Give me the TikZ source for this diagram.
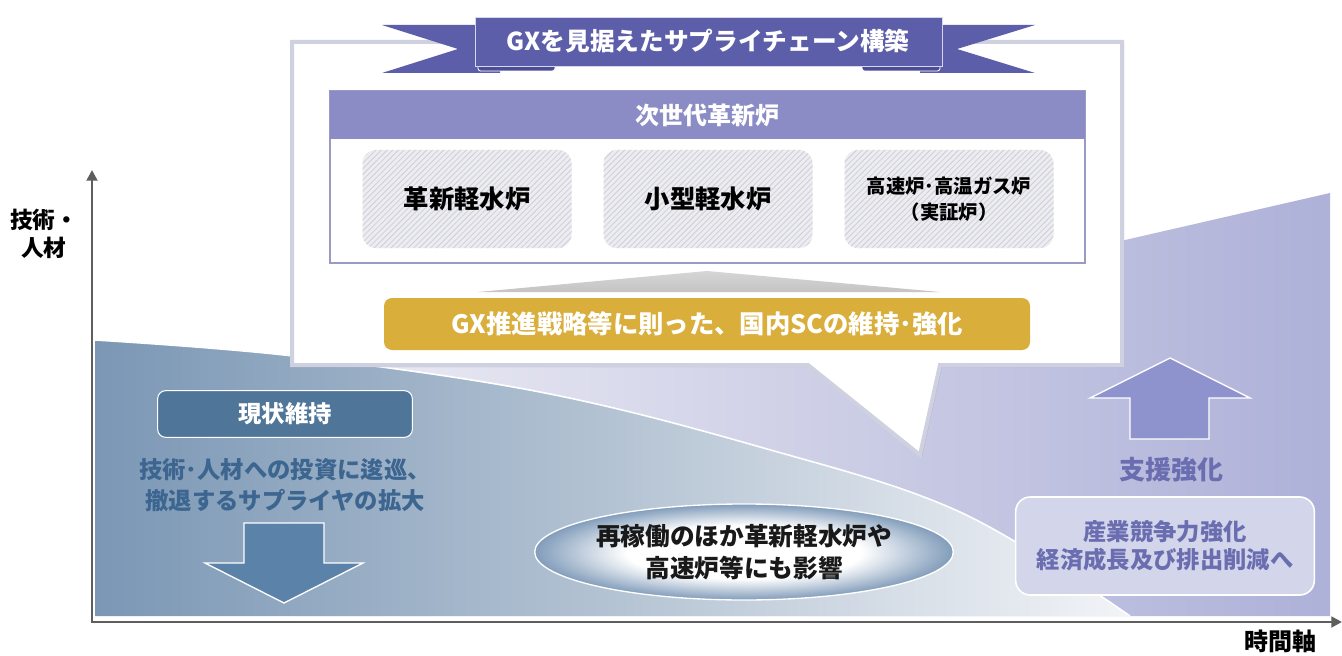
\documentclass[tikz,border=0pt]{standalone}
\usepackage{fontspec}
\setmainfont{Noto Sans CJK JP}
\usetikzlibrary{arrows.meta,shapes.geometric,shadows,patterns.meta}
\definecolor{axisgray}{HTML}{5E5E5E}
\definecolor{ribboncol}{HTML}{5C5EA9}
\definecolor{ribbondark}{HTML}{4B4D96}
\definecolor{boxborder}{HTML}{CFD0E0}
\definecolor{headcol}{HTML}{8B8CC6}
\definecolor{innerborder}{HTML}{9A9BC4}
\definecolor{hatchbg}{HTML}{ECECF1}
\definecolor{hatchline}{HTML}{CDCED8}
\definecolor{goldcol}{HTML}{D9AE3B}
\definecolor{steelbox}{HTML}{4F7599}
\definecolor{steeltext}{HTML}{3C6590}
\definecolor{steelarrow}{HTML}{5B82A9}
\definecolor{bluedark}{HTML}{7B97B5}
\definecolor{bluemid}{HTML}{B4C3D3}
\definecolor{bluelight}{HTML}{F2F4F7}
\definecolor{purplelight}{HTML}{EEEEF5}
\definecolor{purpledark}{HTML}{AEB1D8}
\definecolor{uparrow}{HTML}{8F93CD}
\definecolor{purpletext}{HTML}{6A6EB0}
\definecolor{purplebox}{HTML}{D3D5EA}
\definecolor{ellblue}{HTML}{819CBA}
\definecolor{trigray}{HTML}{C4C4C4}
\pgfdeclareradialshading{ellshade}{\pgfpoint{0bp}{0bp}}{color(0bp)=(white); color(14bp)=(white); color(25bp)=(ellblue); color(50bp)=(ellblue)}
\newcommand\jfs[2]{\fontsize{#1pt}{#2pt}\selectfont\bfseries}
\tikzset{
  every node/.style={inner sep=0pt, outer sep=0pt},
  axisline/.style={draw=axisgray, line width=2.2pt, -{Triangle[length=8pt,width=8pt]}},
  hatchbox/.style={rounded corners=10pt, minimum width=156.75pt, minimum height=73.5pt,
    preaction={fill=hatchbg}, pattern={Lines[angle=45,distance=3pt,line width=0.6pt]},
    pattern color=hatchline, align=center, text=black},
  whitetxt/.style={text=white},
  arrowshape/.style={draw=white, line width=1pt},
}
\begin{document}
\begin{tikzpicture}[x=0.75pt,y=-0.75pt]
\useasboundingbox (0,0) rectangle (1342,656);
\fill[white] (0,0) rectangle (1342,656);
% purple region
\path[left color=purplelight, right color=purpledark] (292,365) -- (580,365) -- (1330,193) -- (1330,616) -- (292,616) -- cycle;
% blue region
\path[left color=bluedark, right color=bluelight, middle color=bluemid]
  plot[smooth, tension=0.6] coordinates {(95,340) (293,356) (540,392) (760,447) (960,512) (1130,616)}
  -- (95,616) -- cycle;
\draw[white, line width=1.2pt] plot[smooth, tension=0.6] coordinates {(95,340) (293,356) (540,392) (760,447) (960,512) (1130,616)};
% axes
\coordinate (O) at (92,622);
\coordinate (Ytop) at (92,170);
\coordinate (Xend) at (1342,622);
\draw[axisline] (O) -- (Ytop);
\draw[axisline] ([xshift=-1pt]O) -- (Xend);
\node[align=center, font=\jfs{17}{21}] (ylab) at (44,234) {技術・\\人材};
\node[font=\jfs{18}{21}] (xlab) at (1280,641) {時間軸};
% main speech box
\path[fill=white, draw=boxborder, line width=3pt,
  drop shadow={shadow xshift=1.5pt, shadow yshift=-1.5pt, opacity=0.3, fill=black!45}]
  (292,42) -- (1122,42) -- (1122,365) -- (940,365) -- (920,455) -- (808,365) -- (292,365) -- cycle;
% ribbon
\fill[ribboncol] (382,25) -- (500,25) -- (500,73) -- (382,73) -- (458,49) -- cycle;
\fill[ribboncol] (1035,25) -- (920,25) -- (920,73) -- (1035,73) -- (957,49) -- cycle;
\filldraw[fill=ribbondark, draw=white, line width=0.6pt, rounded corners=2pt] (478,58) rectangle (555,71);
\filldraw[fill=ribbondark, draw=white, line width=0.6pt, rounded corners=2pt] (862,58) rectangle (940,71);
\filldraw[fill=ribboncol, draw=white!75!ribboncol, line width=0.6pt] (475,17) rectangle (942,66);
\node[whitetxt, font=\jfs{18.5}{21}] (title) at (708,41) {GXを見据えたサプライチェーン構築};
% inner box
\draw[draw=innerborder, line width=1pt, fill=white] (330,91) rectangle (1085,263);
\fill[headcol] (330,91) rectangle (1085,139);
\node[whitetxt, font=\jfs{18}{21}] (head) at (707,115) {次世代革新炉};
\node[hatchbox, font=\jfs{19}{22}] (b1) at (467,199) {革新軽水炉};
\node[hatchbox, font=\jfs{19}{22}] (b2) at (708,199) {小型軽水炉};
\node[hatchbox, font=\jfs{14.5}{19.5}] (b3) at (949,199) {高速炉･高温ガス炉\\（実証炉）};
% grey triangle
\path[top color=trigray!70, bottom color=trigray] (478,292) -- (707,271) -- (940,292) -- cycle;
% gold bar
\node[fill=goldcol, rounded corners=6pt, minimum width=484.5pt, minimum height=39pt,
  whitetxt, font=\jfs{19}{22}] (gold) at (707,324) {GX推進戦略等に則った、国内SCの維持･強化};
% left side
\node[fill=steelbox, draw=white, line width=0.8pt, rounded corners=6pt, minimum width=191pt,
  minimum height=35pt, whitetxt, font=\jfs{17.5}{20}] (status) at (285,414) {現状維持};
\node[align=center, text=steeltext, font=\jfs{17.5}{23}] (ltext) at (285,485)
  {技術･人材への投資に逡巡、\\撤退するサプライヤの拡大};
\path[fill=steelarrow, arrowshape] (244,523) -- (324,523) -- (324,563) -- (363,563) -- (284,603)
  -- (205,563) -- (244,563) -- cycle;
% ellipse
\node[ellipse, shading=ellshade, draw=white, line width=1pt, minimum width=291pt, minimum height=72pt,
  align=center, text=black!90, font=\jfs{18.5}{24}] (ell) at (744,552)
  {再稼働のほか革新軽水炉や\\高速炉等にも影響};
% right side
\path[fill=uparrow, arrowshape] (1130,439) -- (1130,398) -- (1090,398) -- (1170,358) -- (1250,398)
  -- (1209,398) -- (1209,439) -- cycle;
\node[text=purpletext, font=\jfs{19.5}{22}] (support) at (1171,470) {支援強化};
\node[fill=purplebox, draw=white, line width=1.2pt, rounded corners=11pt, minimum width=224pt,
  minimum height=73.5pt, align=center, text=purpletext, font=\jfs{17.5}{21}] (rbox) at (1165,546)
  {産業競争力強化\\経済成長及び排出削減へ};
\end{tikzpicture}
\end{document}
